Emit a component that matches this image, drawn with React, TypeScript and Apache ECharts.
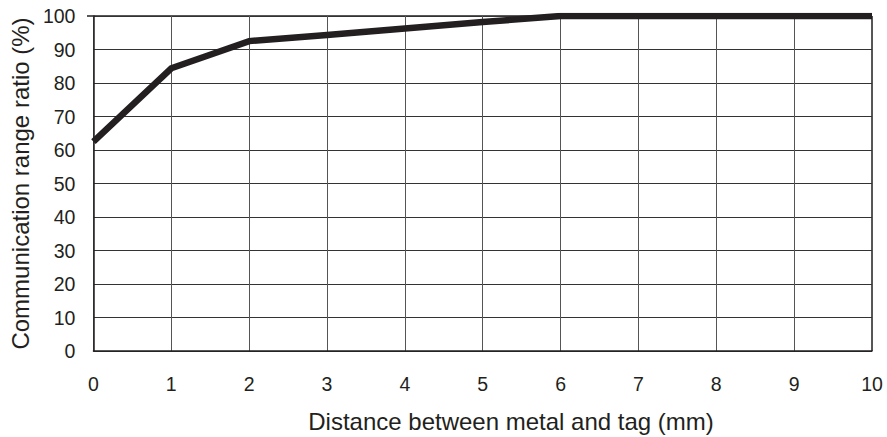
import React, { useEffect, useRef } from "react";
import * as echarts from "echarts";

const distances = [0, 1, 2, 3, 4, 5, 6, 7, 8, 9, 10];
const ratios = [62.5, 84.4, 92.5, 94.3, 96.3, 98.2, 100, 100, 100, 100, 100];
const xTitle = "Distance between metal and tag (mm)";
const yTitle = "Communication range ratio (%)";

export default function App() {
  const ref = useRef<HTMLDivElement>(null);
  useEffect(() => {
    if (!ref.current) return;
    const chart = echarts.init(ref.current, null, { renderer: "svg" });
    const font = "Liberation Sans, Arial, sans-serif";
    chart.setOption({
      animation: false,
      backgroundColor: "#ffffff",
      grid: { left: 87, right: 15, top: 16, bottom: 86, containLabel: false },
      xAxis: {
        type: "value",
        min: 0,
        max: 10,
        interval: 1,
        axisLine: { show: true, onZero: false, lineStyle: { color: "#231f20", width: 1.5 } },
        axisTick: { show: false },
        axisLabel: { margin: 23, fontSize: 19.5, color: "#231f20", fontFamily: font },
        splitLine: { show: true, lineStyle: { color: "#555", width: 1 } },
      },
      yAxis: {
        type: "value",
        min: 0,
        max: 100,
        interval: 10,
        name: yTitle,
        nameLocation: "middle",
        nameGap: 61,
        nameTextStyle: { fontSize: 24, color: "#231f20", fontFamily: font },
        axisLine: { show: true, lineStyle: { color: "#231f20", width: 1.5 } },
        axisTick: { show: false },
        axisLabel: { margin: 18, fontSize: 19.5, color: "#231f20", fontFamily: font },
        splitLine: { show: true, lineStyle: { color: "#333", width: 1 } },
      },
      graphic: [
        {
          type: "text",
          x: 511,
          y: 421,
          style: {
            text: xTitle,
            fontSize: 24,
            fill: "#231f20",
            fontFamily: font,
            align: "center",
            verticalAlign: "middle",
          },
        },
        {
          type: "line",
          shape: { x1: 87, y1: 16, x2: 872, y2: 16 },
          style: { stroke: "#231f20", lineWidth: 1.5 },
        },
        {
          type: "line",
          shape: { x1: 872, y1: 16, x2: 872, y2: 351 },
          style: { stroke: "#231f20", lineWidth: 1.5 },
        },
      ],
      series: [
        {
          type: "line",
          data: distances.map((d, i) => [d, ratios[i]]),
          symbol: "none",
          lineStyle: { color: "#231f20", width: 6.5, join: "miter" },
          z: 5,
        },
      ],
    });
    return () => chart.dispose();
  }, []);
  return (
    <div
      ref={ref}
      style={{ position: "fixed", left: 0, top: 0, width: 887, height: 437 }}
    />
  );
}
